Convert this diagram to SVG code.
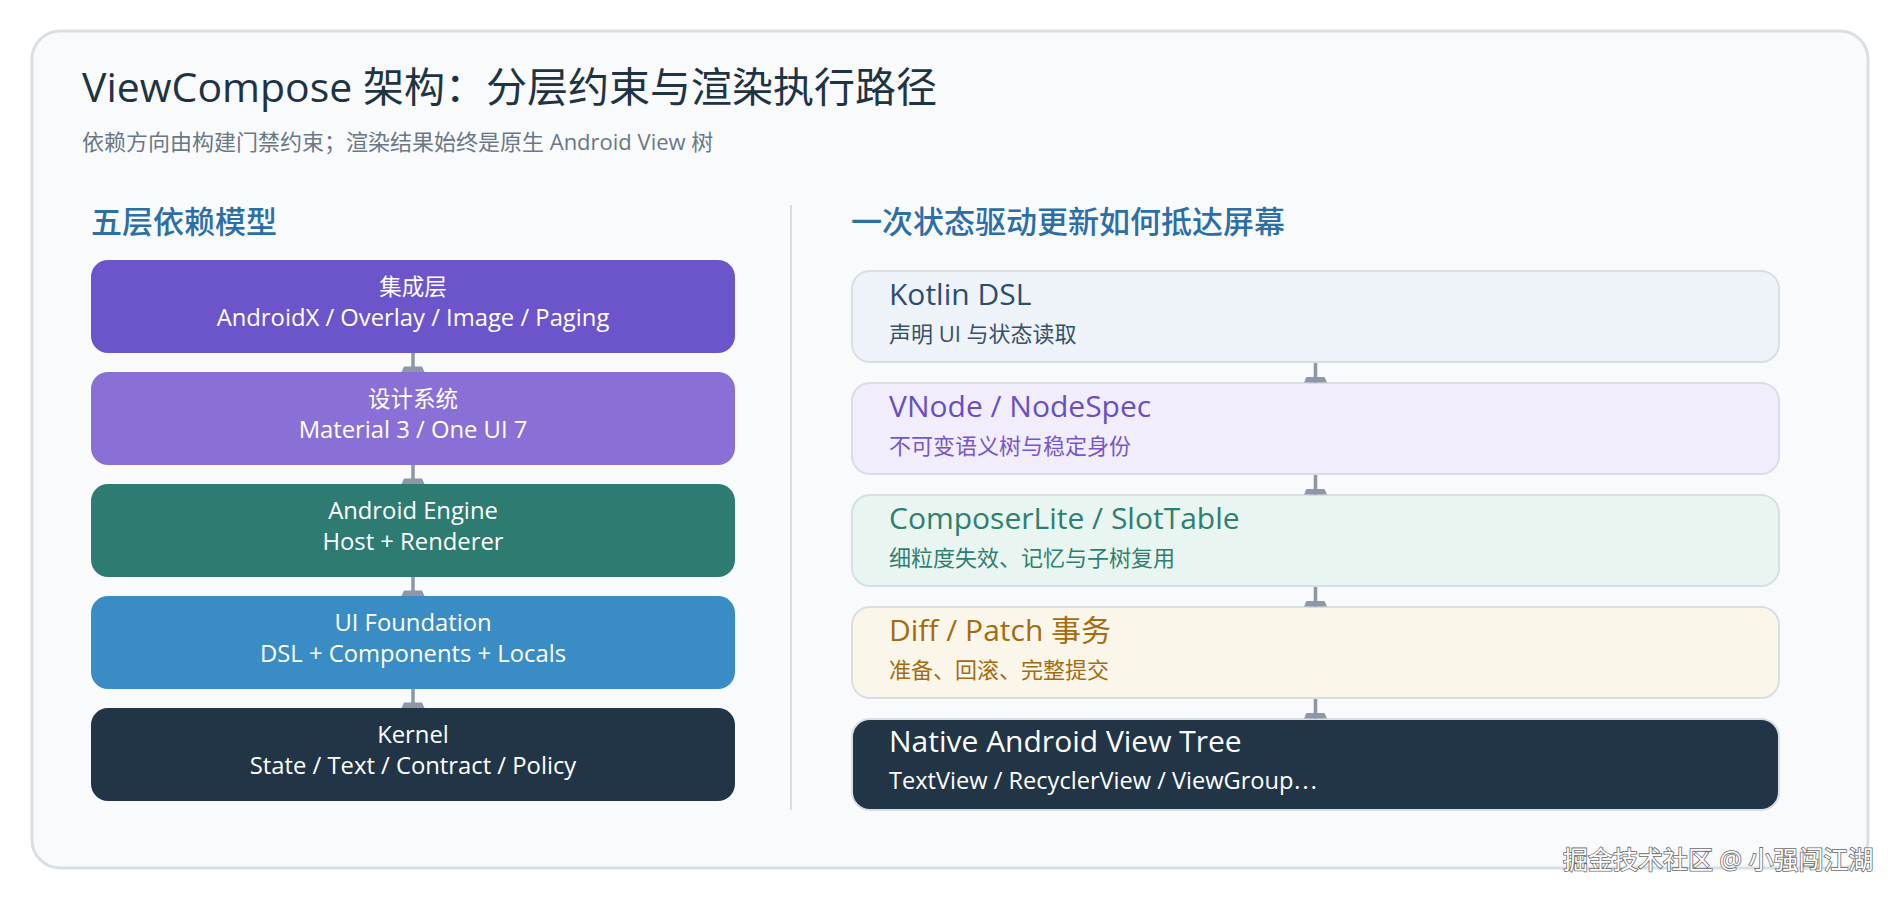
<svg xmlns="http://www.w3.org/2000/svg" width="1900" height="900" viewBox="0 0 1900 900">
  <defs>
    <style>
      text { font-family: "Open Sans", "Noto Sans CJK SC", sans-serif; }
      .title { font-size: 41px; fill: #1f3443; font-weight: 400; }
      .sub { font-size: 22px; fill: #6b7785; }
      .heading { font-size: 31px; fill: #2c6ea5; font-weight: 500; }
      .lbox { stroke: none; }
      .ltxt { font-size: 22.5px; fill: #ffffff; text-anchor: middle; }
      .lat { font-size: 23.8px; }
      .rbox { stroke: #d8dee6; stroke-width: 2; }
      .rt { font-size: 30px; }
      .rs { font-size: 22px; }
      .cjk { font-family: "Noto Sans CJK SC", sans-serif; }
      .conn { stroke: #8e97a7; stroke-width: 3.5; fill: none; }
      .wm { font-size: 25px; fill: #ffffff; stroke: #6a6a6a; stroke-width: 1.6px; paint-order: stroke; }
    </style>
    <marker id="head" markerUnits="userSpaceOnUse" viewBox="-12 -6 24 6" markerWidth="24" markerHeight="6" refX="0" refY="0" orient="0">
      <path d="M-9,-5.5 L9,-5.5 L11.5,0 L-11.5,0 Z" fill="#8e97a7"/>
    </marker>
  </defs>

  <rect x="0" y="0" width="1900" height="900" fill="#ffffff"/>
  <rect x="32" y="31" width="1836" height="837" rx="28" ry="28" fill="#f8fafc" stroke="#dadfe5" stroke-width="3"/>

  <text class="title" x="82" y="102">ViewCompose 架构：分层约束与渲染执行路径</text>
  <text class="sub" x="82" y="150">依赖方向由构建门禁约束；渲染结果始终是原生 Android View 树</text>

  <text class="heading" x="91" y="233">五层依赖模型</text>
  <text class="heading" x="851" y="233">一次状态驱动更新如何抵达屏幕</text>

  <line x1="791" y1="205" x2="791" y2="810" stroke="#d7dde4" stroke-width="2"/>

  <g id="layer-integration">
    <rect class="lbox" x="91" y="260" width="644" height="93" rx="17" fill="#6c55ca"/>
    <text class="ltxt" x="413" y="295">集成层</text>
    <text class="ltxt lat" x="413" y="326">AndroidX / Overlay / Image / Paging</text>
  </g>
  <g id="layer-design">
    <rect class="lbox" x="91" y="372" width="644" height="93" rx="17" fill="#8a6fd6"/>
    <text class="ltxt" x="413" y="407">设计系统</text>
    <text class="ltxt lat" x="413" y="438">Material 3 / One UI 7</text>
  </g>
  <g id="layer-engine">
    <rect class="lbox" x="91" y="484" width="644" height="93" rx="17" fill="#2e7b72"/>
    <text class="ltxt lat" x="413" y="519">Android Engine</text>
    <text class="ltxt lat" x="413" y="550">Host + Renderer</text>
  </g>
  <g id="layer-foundation">
    <rect class="lbox" x="91" y="596" width="644" height="93" rx="17" fill="#3a8cc5"/>
    <text class="ltxt lat" x="413" y="631">UI Foundation</text>
    <text class="ltxt lat" x="413" y="662">DSL + Components + Locals</text>
  </g>
  <g id="layer-kernel">
    <rect class="lbox" x="91" y="708" width="644" height="93" rx="17" fill="#213547"/>
    <text class="ltxt lat" x="413" y="743">Kernel</text>
    <text class="ltxt lat" x="413" y="774">State / Text / Contract / Policy</text>
  </g>

  <g id="step-dsl">
    <rect class="rbox" x="852" y="271" width="927" height="91" rx="18" fill="#eef3f9"/>
    <text class="rt" x="889" y="305" fill="#2d4d6e">Kotlin DSL</text>
    <text class="rs" x="889" y="342" fill="#3a5068">声明 UI 与状态读取</text>
  </g>
  <g id="step-vnode">
    <rect class="rbox" x="852" y="383" width="927" height="91" rx="18" fill="#f2edfc"/>
    <text class="rt" x="889" y="417" fill="#6a4fc1">VNode / NodeSpec</text>
    <text class="rs" x="889" y="454" fill="#7657c9">不可变语义树与稳定身份</text>
  </g>
  <g id="step-composer">
    <rect class="rbox" x="852" y="495" width="927" height="91" rx="18" fill="#e9f5f1"/>
    <text class="rt" x="889" y="529" fill="#2f7f6f">ComposerLite / SlotTable</text>
    <text class="rs" x="889" y="566" fill="#2f7f6f">细粒度失效、记忆与子树复用</text>
  </g>
  <g id="step-diff">
    <rect class="rbox" x="852" y="607" width="927" height="91" rx="18" fill="#fbf6ea"/>
    <text class="rt" x="889" y="641" fill="#a46c12">Diff / Patch 事务</text>
    <text class="rs" x="889" y="678" fill="#a46c12">准备、回滚、完整提交</text>
  </g>
  <g id="step-native">
    <rect class="rbox" x="852" y="719" width="927" height="91" rx="18" fill="#213547" stroke="#d6e0ec"/>
    <text class="rt" x="889" y="752" fill="#ffffff">Native Android View Tree</text>
    <text class="rs" x="889" y="789" fill="#ffffff" style="font-size:23.6px">TextView / RecyclerView / ViewGroup<tspan class="cjk" style="font-size:22px">…</tspan></text>
  </g>

  <g id="connectors">
    <line class="conn" x1="413" y1="353" x2="413" y2="372" marker-end="url(#head)"/>
    <line class="conn" x1="413" y1="465" x2="413" y2="484" marker-end="url(#head)"/>
    <line class="conn" x1="413" y1="577" x2="413" y2="596" marker-end="url(#head)"/>
    <line class="conn" x1="413" y1="689" x2="413" y2="708" marker-end="url(#head)"/>
    <line class="conn" x1="1315.5" y1="363" x2="1315.5" y2="382.5" marker-end="url(#head)"/>
    <line class="conn" x1="1315.5" y1="475" x2="1315.5" y2="494.5" marker-end="url(#head)"/>
    <line class="conn" x1="1315.5" y1="587" x2="1315.5" y2="606.5" marker-end="url(#head)"/>
    <line class="conn" x1="1315.5" y1="699" x2="1315.5" y2="718.5" marker-end="url(#head)"/>
  </g>

  <text class="wm" x="1563" y="869">掘金技术社区 @ 小强闯江湖</text>
</svg>
